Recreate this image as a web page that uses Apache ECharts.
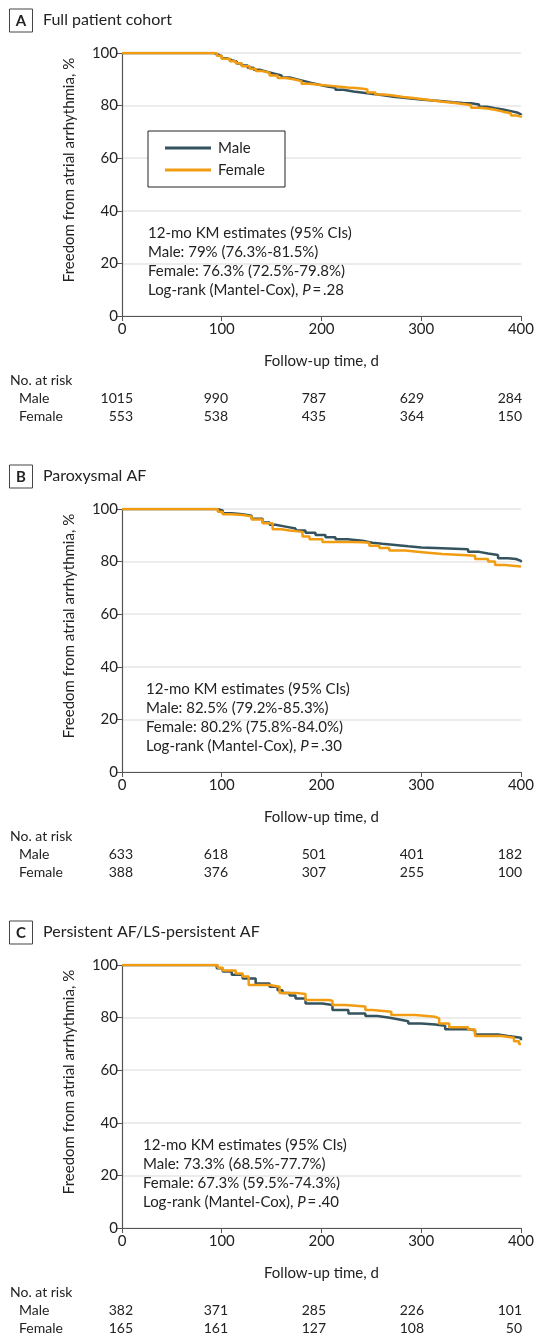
<!DOCTYPE html>
<html>
<head>
<meta charset="utf-8">
<script src="https://cdn.jsdelivr.net/npm/echarts@6/dist/echarts.min.js"></script>
<style>
  html, body { margin: 0; padding: 0; background: #fff; }
  #chart { width: 537px; height: 1341px; }
</style>
</head>
<body>
<div id="chart"></div>
<script>
// panels
const panelLetters = ['A', 'B', 'C']
const panelTitles = ['Full patient cohort', 'Paroxysmal AF', 'Persistent AF/LS-persistent AF']

// KM curves: [day, % free from atrial arrhythmia]
const maleFull = [[0, 100], [88, 100], [92, 99.5], [96, 98.8], [100, 98], [105, 97.3], [110, 96.8], [115, 96], [120, 95.2], [126, 94.4], [132, 93.6], [138, 92.9], [145, 92.2], [152, 91.5], [160, 90.7], [168, 90], [175, 89.3], [183, 88.6], [190, 87.9], [198, 87.3], [206, 86.8], [214, 86], [222, 85.4], [232, 84.9], [242, 84.4], [252, 83.9], [262, 83.4], [272, 83], [282, 82.6], [292, 82.2], [302, 81.9], [312, 81.7], [322, 81.3], [332, 81], [342, 80.9], [350, 80.4], [358, 79.6], [366, 79], [374, 78.5], [382, 77.9], [390, 77.4], [396, 76.7], [400, 76.4]]
const femaleFull = [[0, 100], [90, 100], [95, 99], [100, 97.8], [108, 96.9], [114, 96.1], [120, 95], [128, 94], [134, 93.2], [140, 92.5], [148, 91.4], [156, 90.5], [164, 90], [172, 89.3], [180, 88.3], [188, 87.8], [200, 87.5], [210, 87.2], [218, 86.9], [226, 86.7], [234, 86.4], [242, 86.1], [246, 85], [254, 84.2], [262, 83.8], [272, 83.3], [282, 82.9], [292, 82.4], [302, 81.9], [312, 81.5], [322, 81.1], [332, 80.6], [342, 80.2], [350, 79.2], [358, 78.9], [366, 78.4], [374, 77.7], [382, 77.1], [390, 76.2], [396, 75.8], [400, 75.4]]

const maleParox = [[0, 100], [90, 100], [95, 99.4], [101, 98.4], [110, 98], [121, 97.4], [130, 96.3], [141, 94.9], [148, 94], [154, 93.3], [164, 92.6], [174, 91.8], [184, 91], [194, 90.1], [204, 89.3], [214, 88.5], [226, 87.9], [241, 87.2], [251, 86.8], [261, 86.3], [274, 85.8], [287, 85.4], [300, 85.1], [321, 84.9], [334, 84.7], [347, 83.7], [358, 83.1], [367, 82.5], [377, 81.3], [387, 81], [395, 80.3], [400, 79.8]]
const femaleParox = [[0, 100], [90, 100], [96, 99], [101, 98], [110, 97.7], [121, 97.2], [130, 96], [141, 94.6], [151, 92.3], [160, 91.8], [168, 91.3], [181, 89.5], [188, 88.5], [201, 87.5], [220, 87.4], [241, 87.2], [248, 86], [258, 85.2], [268, 84.2], [284, 83.6], [301, 82.9], [321, 82.5], [341, 82.2], [354, 81], [367, 80], [374, 78.7], [384, 78.1], [400, 78.1]]

const malePers = [[0, 100], [90, 100], [95, 98.8], [101, 97.5], [110, 96.3], [121, 94.9], [134, 93], [148, 91.7], [156, 90.4], [161, 89.4], [168, 88.4], [174, 87.3], [184, 85.4], [201, 84.8], [211, 82.9], [227, 81.6], [244, 80.6], [256, 80], [267, 79.3], [278, 78.6], [287, 77.8], [300, 77.4], [314, 76.9], [324, 75.6], [347, 75.2], [354, 73.6], [377, 73], [387, 72.3], [400, 71.4]]
const femalePers = [[0, 100], [92, 100], [96, 99], [101, 97.9], [114, 96.8], [121, 95.6], [127, 92.4], [148, 91.7], [158, 89.4], [174, 89], [184, 86.7], [207, 86.4], [211, 84.8], [224, 84.2], [244, 82.9], [251, 82.2], [270, 81], [294, 80.3], [314, 79.7], [318, 77.8], [328, 76.3], [347, 75.5], [354, 73], [381, 72.3], [393, 71], [398, 70], [400, 70]]

const curves = [[maleFull, femaleFull], [maleParox, femaleParox], [malePers, femalePers]]

// axis ticks
const xTicks = [0, 100, 200, 300, 400]
const yTicks = [0, 20, 40, 60, 80, 100]

// 12-mo KM estimate text
const kmMale = ['79% (76.3%-81.5%)', '82.5% (79.2%-85.3%)', '73.3% (68.5%-77.7%)']
const kmFemale = ['76.3% (72.5%-79.8%)', '80.2% (75.8%-84.0%)', '67.3% (59.5%-74.3%)']
const pValues = ['.28', '.30', '.40']

// numbers at risk at 0, 100, 200, 300, 400 d
const riskMale = [[1015, 990, 787, 629, 284], [633, 618, 501, 401, 182], [382, 371, 285, 226, 101]]
const riskFemale = [[553, 538, 435, 364, 150], [388, 376, 307, 255, 100], [165, 161, 127, 108, 50]]

const MALE = '#34535e'
const FEMALE = '#f29c11'
const FONT = 'Lato'
const TXT = '#222'

const chart = echarts.init(document.getElementById('chart'))

const gridTop = [53, 509, 965]
const gridH = 263
const gridLeft = 122
const gridW = 401
const riskCols = [133, 228, 326, 424, 522]
const annX = [148, 146, 143]

const grids = []
const xAxes = []
const yAxes = []
const series = []
const graphic = []

gridTop.forEach((top, i) => {
  grids.push({ left: gridLeft, top: top, width: gridW, height: gridH })
  xAxes.push({
    type: 'value', gridIndex: i, min: xTicks[0], max: xTicks[xTicks.length - 1], interval: 100,
    name: 'Follow-up time, d', nameLocation: 'middle', nameGap: 38,
    nameTextStyle: { fontFamily: FONT, fontSize: 15, color: TXT },
    axisLine: { lineStyle: { color: '#555', width: 1.2 } },
    axisTick: { length: 5, lineStyle: { color: '#555' } },
    axisLabel: { fontFamily: FONT, fontSize: 15, color: TXT, margin: 6 },
    splitLine: { show: false }
  })
  yAxes.push({
    type: 'value', gridIndex: i, min: yTicks[0], max: yTicks[yTicks.length - 1], interval: 20,
    axisLine: { show: true, lineStyle: { color: '#555', width: 1.2 } },
    axisTick: { show: true, length: 5, lineStyle: { color: '#555' } },
    axisLabel: { fontFamily: FONT, fontSize: 15, color: TXT, margin: 4 },
    splitLine: { lineStyle: { color: '#e6e6e6', width: 1.5 } }
  })
  ;['Male', 'Female'].forEach((name, k) => {
    series.push({
      name: name, type: 'line', step: 'end', xAxisIndex: i, yAxisIndex: i,
      data: curves[i][k], showSymbol: false, symbol: 'none',
      lineStyle: { width: 2.5, color: k === 0 ? MALE : FEMALE },
      itemStyle: { color: k === 0 ? MALE : FEMALE },
      z: 3 + k, animation: false
    })
  })

  // panel letter box + title
  const ty = top - 33
  graphic.push({
    type: 'rect', shape: { x: 9.5, y: ty - 11, width: 23, height: 23 },
    style: { fill: '#fff', stroke: '#444', lineWidth: 1 }
  })
  graphic.push({
    type: 'text', x: 21, y: ty + 1,
    style: { text: panelLetters[i], fontFamily: FONT, fontSize: 15, fontWeight: 'bold', fill: TXT, align: 'center', verticalAlign: 'middle' }
  })
  graphic.push({
    type: 'text', x: 43, y: ty,
    style: { text: panelTitles[i], fontFamily: FONT, fontSize: 16, fill: TXT, align: 'left', verticalAlign: 'middle' }
  })

  // y axis title
  graphic.push({
    type: 'text', x: 69, y: top + 117, rotation: Math.PI / 2,
    style: { text: 'Freedom from atrial arrhythmia, %', fontFamily: FONT, fontSize: 15, fill: TXT, align: 'center', verticalAlign: 'middle' }
  })

  // KM annotation
  graphic.push({
    type: 'text', x: annX[i], y: top + 171,
    style: {
      text: '12-mo KM estimates (95% CIs)\nMale: ' + kmMale[i] + '\nFemale: ' + kmFemale[i] +
        '\nLog-rank (Mantel-Cox), {i|P}\u2009=\u2009' + pValues[i],
      rich: { i: { fontStyle: 'italic', fontFamily: FONT, fontSize: 15, fill: TXT } },
      fontFamily: FONT, fontSize: 15, lineHeight: 19, fill: TXT, align: 'left', verticalAlign: 'top'
    }
  })

  // number at risk table
  const ry = top + gridH + 64
  graphic.push({ type: 'text', x: 10, y: ry, style: { text: 'No. at risk', fontFamily: FONT, fontSize: 14, fill: TXT, verticalAlign: 'middle' } })
  graphic.push({ type: 'text', x: 19, y: ry + 18, style: { text: 'Male', fontFamily: FONT, fontSize: 14, fill: TXT, verticalAlign: 'middle' } })
  graphic.push({ type: 'text', x: 19, y: ry + 36, style: { text: 'Female', fontFamily: FONT, fontSize: 14, fill: TXT, verticalAlign: 'middle' } })
  riskCols.forEach((cx, j) => {
    graphic.push({ type: 'text', x: cx, y: ry + 18, style: { text: String(riskMale[i][j]), fontFamily: FONT, fontSize: 14, fill: TXT, align: 'right', verticalAlign: 'middle' } })
    graphic.push({ type: 'text', x: cx, y: ry + 36, style: { text: String(riskFemale[i][j]), fontFamily: FONT, fontSize: 14, fill: TXT, align: 'right', verticalAlign: 'middle' } })
  })
})

chart.setOption({
  animation: false,
  backgroundColor: '#fff',
  textStyle: { fontFamily: FONT },
  grid: grids,
  xAxis: xAxes,
  yAxis: yAxes,
  legend: {
    data: ['Male', 'Female'],
    orient: 'vertical', left: 148, top: 131,
    padding: [9, 20, 9, 17],
    itemGap: 6, itemWidth: 46, itemHeight: 3,
    icon: 'rect',
    borderColor: '#222', borderWidth: 1, backgroundColor: '#fff',
    textStyle: { fontFamily: FONT, fontSize: 15, color: TXT, lineHeight: 16, padding: [0, 0, 0, 2] }
  },
  series: series,
  graphic: graphic
})
</script>
</body>
</html>
